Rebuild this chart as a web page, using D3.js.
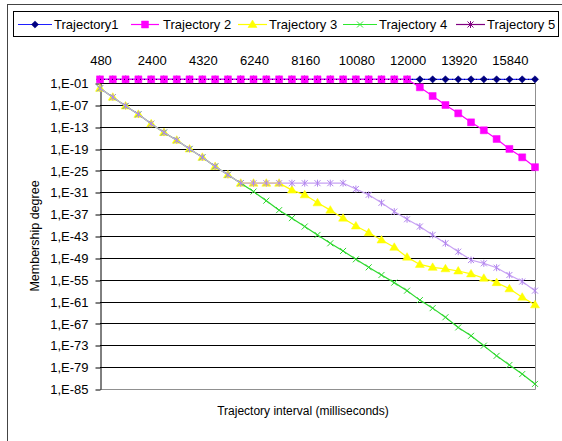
<!DOCTYPE html>
<html>
<head>
<meta charset="utf-8">
<script src="https://cdn.jsdelivr.net/npm/d3@7"></script>
<style>
  html, body { margin: 0; padding: 0; background: #fff; }
  svg { display: block; font-family: Arial, "Liberation Sans", sans-serif; }
</style>
</head>
<body>
<svg id="chart" width="562" height="441"></svg>
<script>
// Trajectory intervals (ms), one category per sample
const intervals = [480, 960, 1440, 1920, 2400, 2880, 3360, 3840, 4320, 4800,
  5280, 5760, 6240, 6720, 7200, 7680, 8160, 8640, 9120, 9600,
  10080, 10560, 11040, 11520, 12000, 12480, 12960, 13440, 13920, 14400,
  14880, 15360, 15840, 16320, 16800];

// Labelled categories on the top axis
const xTickLabels = [480, 2400, 4320, 6240, 8160, 10080, 12000, 13920, 15840];

// Decimal exponents of the value-axis ticks (1,E-01 ... 1,E-85)
const yTickExponents = [-1, -7, -13, -19, -25, -31, -37, -43, -49, -55, -61, -67, -73, -79, -85];

// Membership degree of each trajectory, as log10 of the value
const traj1 = [0, 0, 0, 0, 0, 0, 0, 0, 0, 0, 0, 0, 0, 0, 0, 0, 0, 0, 0, 0,
  0, 0, 0, 0, 0, 0, 0, 0, 0, 0, 0, 0, 0, 0, 0];
const traj2 = [0, 0, 0, 0, 0, 0, 0, 0, 0, 0, 0, 0, 0, 0, 0, 0, 0, 0, 0, 0,
  0, 0, 0, 0, 0, -2.18, -4.57, -7.04, -9.33, -11.8, -13.98, -16.37, -19.1, -21.4, -24.1];
const traj3 = [-2.45, -4.9, -7.3, -9.6, -12.2, -14.6, -16.7, -19.1, -21.4, -23.9,
  -26.2, -28.5, -28.5, -28.5, -28.5, -30.4, -31.7, -33.9, -35.9, -38.1,
  -40.25, -42.1, -44.1, -46.1, -48.8, -50.8, -51.6, -52.0, -52.6, -53.4,
  -54.6, -55.8, -57.5, -59.8, -61.9];
const traj4 = [-2.45, -4.9, -7.3, -9.6, -12.2, -14.6, -16.7, -19.1, -21.4, -23.9,
  -26.2, -28.5, -30.8, -33.3, -35.9, -38.1, -40.4, -42.7, -45.0, -47.1,
  -49.4, -51.6, -53.7, -55.8, -58.0, -60.6, -62.8, -65.3, -68.1, -70.4,
  -73.1, -75.9, -78.4, -80.9, -83.6];
const traj5 = [-2.45, -4.9, -7.3, -9.6, -12.2, -14.6, -16.7, -19.1, -21.4, -23.9,
  -26.2, -28.5, -28.5, -28.5, -28.5, -28.5, -28.5, -28.5, -28.5, -28.5,
  -30.1, -31.7, -33.9, -36.3, -38.4, -40.4, -42.7, -45.0, -47.3, -49.6,
  -50.5, -51.7, -53.7, -55.5, -58.0];

const seriesNames = ["Trajectory1", "Trajectory 2", "Trajectory 3", "Trajectory 4", "Trajectory 5"];
const seriesValues = [traj1, traj2, traj3, traj4, traj5];

// Styling per series
const styles = [
  { line: "#1f1fff", marker: "#000080", shape: "diamond", legendLine: "#1f1fff", legendMarker: "#000080" },
  { line: "#ff00ff", marker: "#ff00ff", shape: "square", legendLine: "#ff00ff", legendMarker: "#ff00ff" },
  { line: "#ffff00", marker: "#ffff00", shape: "triangle", legendLine: "#ffff00", legendMarker: "#ffff00" },
  { line: "#2ed82e", marker: "#2ed82e", shape: "x", legendLine: "#2ee82e", legendMarker: "#2ee82e" },
  { line: "#c8a2f4", marker: "#b286ee", shape: "star", legendLine: "#800080", legendMarker: "#800080" }
];

// Legend entry placement: line start, line end, text start
const legendLayout = [
  [18, 52, 54], [131, 159, 163], [238, 267, 269], [343, 377, 379], [456, 485, 487]
];

const plot = { left: 100, right: 535, top: 83, bottom: 389 };

const svg = d3.select("#chart");

// Outer chart border (runs past the visible area on the right and bottom)
svg.append("rect")
  .attr("x", 7.5).attr("y", 4.5).attr("width", 600).attr("height", 500)
  .attr("fill", "#fff").attr("stroke", "#444").attr("stroke-width", 1);

const x = d3.scalePoint().domain(intervals).range([plot.left, plot.right]);
const y = d3.scaleLog().domain([1e-85, 1e-1]).range([plot.bottom, plot.top]);

const yTicks = yTickExponents.map(e => Math.pow(10, e));
const fmtY = d => {
  const e = Math.round(Math.log10(d));
  return "1,E-" + String(-e).padStart(2, "0");
};

// Horizontal gridlines
svg.append("g").selectAll("line")
  .data(yTicks.filter(d => d > 1e-85))
  .join("line")
  .attr("x1", plot.left).attr("x2", plot.right)
  .attr("y1", d => Math.round(y(d)) + 0.5).attr("y2", d => Math.round(y(d)) + 0.5)
  .attr("stroke", "#000").attr("stroke-width", 1);

// Plot-area border on the right and bottom
svg.append("path")
  .attr("d", `M${plot.left},${plot.bottom + 0.5}H${plot.right + 0.5}V${plot.top}`)
  .attr("fill", "none").attr("stroke", "#909090").attr("stroke-width", 1);

// Value axis on the left
const yAxis = d3.axisLeft(y).tickValues(yTicks).tickFormat(fmtY).tickSize(5).tickSizeOuter(0);
const gy = svg.append("g").attr("transform", `translate(${plot.left + 0.5},0)`).call(yAxis);
gy.select(".domain").attr("stroke", "#000");
gy.selectAll(".tick line").attr("stroke", "#000")
  .attr("transform", function(d) { return `translate(0,${Math.round(y(d)) + 0.5 - y(d)})`; });
gy.selectAll(".tick text")
  .attr("x", -12).attr("dy", "0.36em")
  .attr("font-size", 13).attr("font-family", "Arial, 'Liberation Sans', sans-serif").attr("fill", "#000");

// Category axis on top (labels only)
const xAxis = d3.axisTop(x).tickValues(xTickLabels).tickSize(0).tickPadding(0);
const gx = svg.append("g").attr("transform", `translate(0.5,${plot.top})`).call(xAxis);
gx.select(".domain").remove();
gx.selectAll(".tick text")
  .attr("y", -18)
  .attr("font-size", 13).attr("font-family", "Arial, 'Liberation Sans', sans-serif").attr("fill", "#000");

// Marker shapes
function markerPath(shape) {
  switch (shape) {
    case "diamond": return "M0,-3.6L3.6,0L0,3.6L-3.6,0Z";
    case "square": return "M-3.5,-3.5H3.5V3.5H-3.5Z";
    case "triangle": return "M0,-4.5L4.5,3L-4.5,3Z";
    case "x": return "M-3,-3L3,3M-3,3L3,-3";
    case "star": return "M-3,-3L3,3M-3,3L3,-3M0,-3.5V3.5";
  }
}
function drawMarker(sel, st, color) {
  const filled = st.shape !== "x" && st.shape !== "star";
  sel.append("path")
    .attr("d", markerPath(st.shape))
    .attr("fill", filled ? color : "none")
    .attr("stroke", color)
    .attr("stroke-width", filled ? 0.5 : 1);
}

const line = d3.line()
  .x((d, i) => x(intervals[i]))
  .y(d => y(Math.pow(10, d)));

// Series lines and markers
seriesValues.forEach((vals, si) => {
  const st = styles[si];
  const g = svg.append("g");
  g.append("path")
    .attr("d", line(vals))
    .attr("fill", "none").attr("stroke", st.line).attr("stroke-width", 1.2);
  vals.forEach((v, i) => {
    const m = g.append("g").attr("transform", `translate(${x(intervals[i])},${y(Math.pow(10, v))})`);
    drawMarker(m, st, st.marker);
  });
});

// Dotted trace along the top row of full membership
svg.append("line")
  .attr("x1", x(intervals[0])).attr("x2", x(intervals[intervals.length - 1]))
  .attr("y1", y(1)).attr("y2", y(1))
  .attr("stroke", "#000040").attr("stroke-width", 1).attr("stroke-dasharray", "1,3");

// Axis titles
svg.append("text")
  .attr("transform", `translate(39,${(plot.top + plot.bottom) / 2}) rotate(-90)`)
  .attr("text-anchor", "middle")
  .attr("font-size", 12.5).attr("fill", "#000")
  .text("Membership degree");

svg.append("text")
  .attr("x", 303).attr("y", 415)
  .attr("text-anchor", "middle")
  .attr("font-size", 12).attr("fill", "#000")
  .text("Trajectory interval (milliseconds)");

// Legend
const lg = svg.append("g");
lg.append("rect")
  .attr("x", 13.5).attr("y", 11.5).attr("width", 545).attr("height", 25)
  .attr("fill", "#fff").attr("stroke", "#000").attr("stroke-width", 1);
seriesNames.forEach((name, si) => {
  const st = styles[si];
  const [lx1, lx2, tx] = legendLayout[si];
  const ly = 24;
  lg.append("line")
    .attr("x1", lx1).attr("x2", lx2).attr("y1", ly + 0.5).attr("y2", ly + 0.5)
    .attr("stroke", st.legendLine).attr("stroke-width", 1.2);
  const m = lg.append("g").attr("transform", `translate(${(lx1 + lx2) / 2},${ly + 0.5})`);
  drawMarker(m, st, st.legendMarker);
  lg.append("text")
    .attr("x", tx).attr("y", ly + 5)
    .attr("font-size", 13).attr("fill", "#000")
    .text(name);
});
</script>
</body>
</html>
